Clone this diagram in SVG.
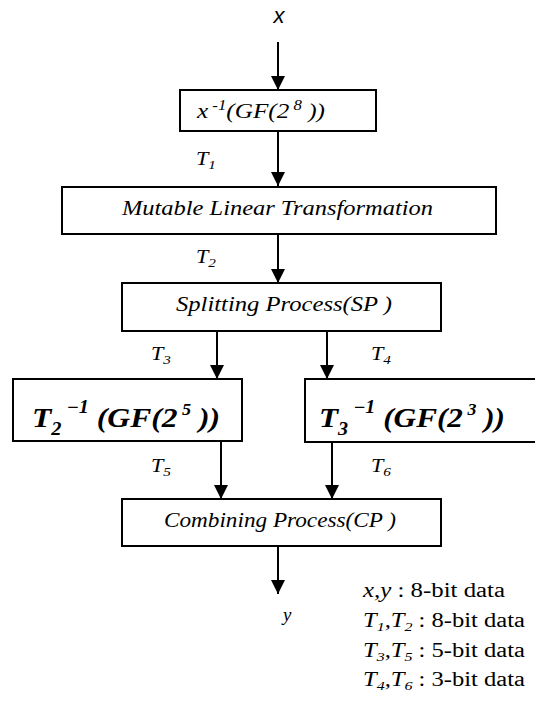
<svg xmlns="http://www.w3.org/2000/svg" width="535" height="702" viewBox="0 0 535 702">
<defs>
<style>
.box{fill:#fff;stroke:#000;stroke-width:2}
.ln{stroke:#000;stroke-width:2;fill:none}
.t{font-family:"Liberation Serif","Times New Roman",serif;font-style:italic;fill:#000}
.b{font-family:"Liberation Serif","Times New Roman",serif;font-style:italic;font-weight:bold;fill:#000}
.lg{font-family:"Liberation Serif","Times New Roman",serif;fill:#000;font-size:20px}
</style>
<marker id="ah" markerWidth="14" markerHeight="14" refX="14" refY="7" orient="auto" markerUnits="userSpaceOnUse">
<path d="M0,0 L14,7 L0,14 Z" fill="#000"/>
</marker>
</defs>
<g id="connectors">
<line class="ln" x1="278" y1="42" x2="278" y2="90" marker-end="url(#ah)"/>
<line class="ln" x1="278" y1="131" x2="278" y2="186" marker-end="url(#ah)"/>
<line class="ln" x1="278" y1="234" x2="278" y2="283" marker-end="url(#ah)"/>
<line class="ln" x1="217" y1="331" x2="217" y2="379" marker-end="url(#ah)"/>
<line class="ln" x1="327" y1="331" x2="327" y2="379" marker-end="url(#ah)"/>
<line class="ln" x1="221" y1="441" x2="221" y2="499" marker-end="url(#ah)"/>
<line class="ln" x1="332" y1="442" x2="332" y2="499" marker-end="url(#ah)"/>
<line class="ln" x1="278" y1="546" x2="278" y2="594" marker-end="url(#ah)"/>
<text class="t" x="196" y="165" font-size="19" textLength="20" lengthAdjust="spacingAndGlyphs">T<tspan font-size="13" dy="4">1</tspan></text>
<text class="t" x="196" y="263" font-size="19" textLength="20" lengthAdjust="spacingAndGlyphs">T<tspan font-size="13" dy="4">2</tspan></text>
<text class="t" x="151" y="360" font-size="19" textLength="20" lengthAdjust="spacingAndGlyphs">T<tspan font-size="13" dy="4">3</tspan></text>
<text class="t" x="371" y="360" font-size="19" textLength="20" lengthAdjust="spacingAndGlyphs">T<tspan font-size="13" dy="4">4</tspan></text>
<text class="t" x="151" y="472" font-size="19" textLength="20" lengthAdjust="spacingAndGlyphs">T<tspan font-size="13" dy="4">5</tspan></text>
<text class="t" x="371" y="472" font-size="19" textLength="20" lengthAdjust="spacingAndGlyphs">T<tspan font-size="13" dy="4">6</tspan></text>
</g>
<g id="input">
<text x="279" y="23" font-family="Liberation Sans, Arial, sans-serif" font-style="italic" font-size="22" text-anchor="middle">x</text>
</g>
<g id="inverse-gf28">
<rect class="box" x="180" y="90" width="196" height="41"/>
<text class="t" x="197" y="118" font-size="21" textLength="128" lengthAdjust="spacingAndGlyphs">x<tspan font-size="14" dy="-8"> -1</tspan><tspan dy="8">(GF(2</tspan><tspan font-size="14" dy="-8"> 8</tspan><tspan dy="8"> ))</tspan></text>
</g>
<g id="mutable-linear">
<rect class="box" x="62" y="187" width="434" height="47"/>
<text class="t" x="122" y="215" font-size="21" textLength="311" lengthAdjust="spacingAndGlyphs">Mutable Linear Transformation</text>
</g>
<g id="splitting">
<rect class="box" x="122" y="283" width="319" height="48"/>
<text class="t" x="176" y="311" font-size="21" textLength="216" lengthAdjust="spacingAndGlyphs">Splitting Process(SP )</text>
</g>
<g id="inverse-gf25">
<rect class="box" x="13" y="379" width="229" height="62"/>
<text class="b" x="32" y="427" font-size="28" textLength="188" lengthAdjust="spacingAndGlyphs">T<tspan font-size="18" dy="8">2</tspan><tspan font-size="18" dy="-22"> −1</tspan><tspan dy="14">  (GF(2</tspan><tspan font-size="16" dy="-12"> 5</tspan><tspan dy="12"> ))</tspan></text>
</g>
<g id="inverse-gf23">
<rect class="box" x="305" y="379" width="232" height="63"/>
<text class="b" x="319" y="427" font-size="28" textLength="186" lengthAdjust="spacingAndGlyphs">T<tspan font-size="18" dy="8">3</tspan><tspan font-size="18" dy="-22"> −1</tspan><tspan dy="14">  (GF(2</tspan><tspan font-size="16" dy="-12"> 3</tspan><tspan dy="12"> ))</tspan></text>
</g>
<g id="combining">
<rect class="box" x="122" y="499" width="319" height="47"/>
<text class="t" x="164" y="527" font-size="21" textLength="232" lengthAdjust="spacingAndGlyphs">Combining Process(CP )</text>
</g>
<g id="output">
<text class="t" x="283" y="621" font-size="19">y</text>
</g>
<g id="legend">
<text class="lg" x="363" y="597" textLength="142" lengthAdjust="spacingAndGlyphs"><tspan font-style="italic">x,y</tspan> : 8-bit data</text>
<text class="lg" x="363" y="627" textLength="162" lengthAdjust="spacingAndGlyphs"><tspan font-style="italic">T<tspan font-size="13" dy="4">1</tspan><tspan dy="-4">,T</tspan><tspan font-size="13" dy="4">2</tspan></tspan><tspan dy="-4"> : 8-bit data</tspan></text>
<text class="lg" x="363" y="657" textLength="162" lengthAdjust="spacingAndGlyphs"><tspan font-style="italic">T<tspan font-size="13" dy="4">3</tspan><tspan dy="-4">,T</tspan><tspan font-size="13" dy="4">5</tspan></tspan><tspan dy="-4"> : 5-bit data</tspan></text>
<text class="lg" x="363" y="686" textLength="162" lengthAdjust="spacingAndGlyphs"><tspan font-style="italic">T<tspan font-size="13" dy="4">4</tspan><tspan dy="-4">,T</tspan><tspan font-size="13" dy="4">6</tspan></tspan><tspan dy="-4"> : 3-bit data</tspan></text>
</g>
</svg>
